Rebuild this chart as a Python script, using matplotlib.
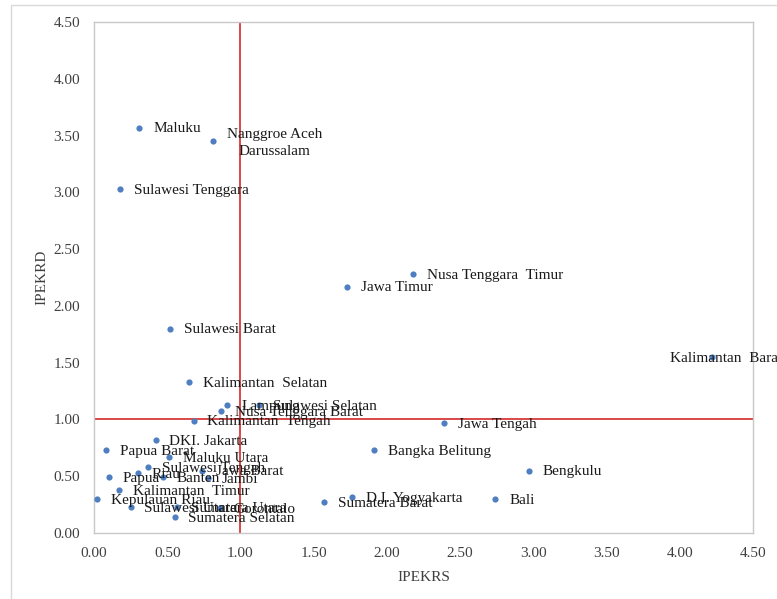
import matplotlib
matplotlib.use("Agg")
import matplotlib.pyplot as plt
from matplotlib.patches import Rectangle

plt.rcParams['font.family'] = ['Liberation Serif', 'DejaVu Serif']

provinces = ["Maluku", "Nanggroe Aceh\nDarussalam", "Sulawesi Tenggara", "Sulawesi Barat",
             "Kalimantan  Selatan", "Jawa Timur", "Nusa Tenggara  Timur", "Kalimantan  Barat",
             "Jawa Tengah", "Bangka Belitung", "Bengkulu", "Bali", "D.I. Yogyakarta",
             "Sumatera Barat", "Lampung", "Sulawesi Selatan", "Nusa Tenggara Barat",
             "Kalimantan  Tengah", "DKI. Jakarta", "Papua Barat", "Maluku Utara",
             "Sulawesi Tengah", "Riau", "Papua", "Jawa Barat", "Banten", "Jambi",
             "Kalimantan  Timur", "Kepulauan Riau", "Sulawesi Utara", "Sumatera Selatan",
             "Gorontalo", "Sumatera Utara"]
ipekrs = [0.31, 0.81, 0.18, 0.52, 0.65, 1.73, 2.18, 4.22, 2.39, 1.91, 2.97, 2.74, 1.76,
          1.57, 0.91, 1.13, 0.87, 0.68, 0.42, 0.08, 0.51, 0.37, 0.30, 0.10, 0.74, 0.47,
          0.78, 0.17, 0.02, 0.25, 0.55, 0.86, 0.57]
ipekrd = [3.57, 3.45, 3.03, 1.80, 1.33, 2.17, 2.28, 1.55, 0.97, 0.73, 0.55, 0.30, 0.32,
          0.27, 1.13, 1.13, 1.07, 0.99, 0.82, 0.73, 0.67, 0.58, 0.53, 0.49, 0.55, 0.49,
          0.48, 0.38, 0.30, 0.23, 0.14, 0.22, 0.23]
ticks = [0.0, 0.5, 1.0, 1.5, 2.0, 2.5, 3.0, 3.5, 4.0, 4.5]
threshold = 1.0

fig = plt.figure(figsize=(7.77, 5.99), dpi=100)
fig.patches.append(Rectangle((11/777, -0.1), 1.2, 1 - 5/599 + 0.1, transform=fig.transFigure,
                             fill=False, edgecolor='#d9d9d9', linewidth=1.0))
ax = fig.add_axes([94/777, 1 - 533/599, (753 - 94)/777, (533 - 22)/599])
ax.set_xlim(0, 4.5)
ax.set_ylim(0, 4.5)
ax.set_xticks(ticks)
ax.set_yticks(ticks)
ax.set_xticklabels([f"{t:.2f}" for t in ticks])
ax.set_yticklabels([f"{t:.2f}" for t in ticks])
ax.tick_params(length=0, labelsize=11, labelcolor='#404040')
ax.tick_params(axis='x', pad=10)
ax.tick_params(axis='y', pad=10)
for s in ax.spines.values():
    s.set_color('#c8c8c8')
    s.set_linewidth(1.0)

ax.axvline(threshold, color='#d42a2a', linewidth=1.2, zorder=1)
ax.axhline(threshold, color='#d42a2a', linewidth=1.2, zorder=1)

ax.scatter(ipekrs, ipekrd, s=20, color='#4f7fc0', zorder=3, linewidths=0)

for name, x, y in zip(provinces, ipekrs, ipekrd):
    dx, dy = 10, -1
    if name.startswith("Kalimantan  Barat"):
        dx = -30
    if "\n" in name:
        dy = -1.5
    ax.annotate(name, (x, y), xytext=(dx, dy), textcoords='offset points',
                ha='left', va='center', fontsize=11, color='#1a1a1a',
                multialignment='center', annotation_clip=False, zorder=4,
                linespacing=1.4)

ax.set_xlabel("IPEKRS", fontsize=11, color='#404040', labelpad=8)
ax.set_ylabel("IPEKRD", fontsize=11, color='#404040', labelpad=4)

fig.savefig("out.png", dpi=100)
